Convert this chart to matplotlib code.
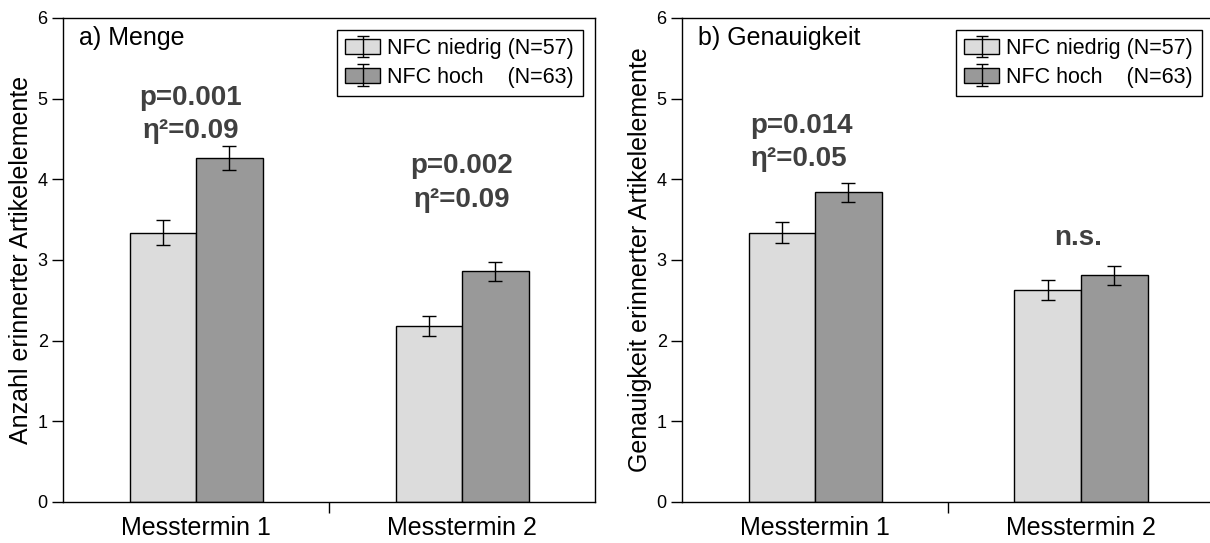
import matplotlib
matplotlib.use("Agg")
import matplotlib.pyplot as plt
from matplotlib.patches import Patch
from matplotlib.legend_handler import HandlerTuple
import numpy as np

plt.rcParams['font.family'] = ['Liberation Sans', 'DejaVu Sans']

categories = ["Messtermin 1", "Messtermin 2"]
series_labels = ["NFC niedrig (N=57)", "NFC hoch    (N=63)"]

# Panel a) Menge
menge_low = [3.34, 2.18]
menge_low_err = [0.16, 0.12]
menge_high = [4.26, 2.86]
menge_high_err = [0.15, 0.12]

# Panel b) Genauigkeit
gen_low = [3.34, 2.63]
gen_low_err = [0.13, 0.12]
gen_high = [3.84, 2.81]
gen_high_err = [0.12, 0.115]

panel_titles = ["a) Menge", "b) Genauigkeit"]
ylabels = ["Anzahl erinnerter Artikelelemente", "Genauigkeit erinnerter Artikelelemente"]

# annotations: (category index, x offset, y, text)
annot_a = [(0, -0.02, 5.01, "p=0.001"), (0, -0.02, 4.60, "η²=0.09"),
           (1, 0.0, 4.16, "p=0.002"), (1, 0.0, 3.75, "η²=0.09")]
annot_b = [(0, -0.05, 4.66, "p=0.014"), (0, -0.06, 4.25, "η²=0.05"),
           (1, -0.01, 3.27, "n.s.")]

col_low = "#dcdcdc"
col_high = "#999999"

fig = plt.figure(figsize=(12.1, 5.43), dpi=100)
ax1 = fig.add_axes([63/1210, 41/543, 532/1210, 484/543])
ax2 = fig.add_axes([682/1210, 41/543, 532/1210, 484/543])

def draw(ax, low, low_err, high, high_err, title, ylabel, annots):
    x = np.arange(len(categories))
    w = 0.25
    ekw = dict(ecolor="black", elinewidth=1.0, capsize=5, capthick=1.0)
    ax.bar(x - w/2, low, w, yerr=low_err, color=col_low, edgecolor="black",
           linewidth=1.0, error_kw=ekw, zorder=2)
    ax.bar(x + w/2, high, w, yerr=high_err, color=col_high, edgecolor="black",
           linewidth=1.0, error_kw=ekw, zorder=2)
    ax.set_xlim(-0.5, 1.5)
    ax.set_ylim(0, 6)
    ax.set_yticks(range(0, 7))
    ax.tick_params(axis='y', direction='out', length=8, width=1, labelsize=13, pad=3)
    ax.set_xticks(x)
    ax.set_xticklabels(categories, fontsize=18)
    ax.tick_params(axis='x', which='major', length=0, pad=10)
    ax.set_xticks([0.5], minor=True)
    ax.tick_params(axis='x', which='minor', direction='out', length=8, width=1)
    for s in ax.spines.values():
        s.set_linewidth(1.0)
    ax.set_ylabel(ylabel, fontsize=18, labelpad=3)
    ax.text(-0.44, 5.75, title, fontsize=18, va='center', ha='left')
    for ci, dx, y, t in annots:
        ax.text(x[ci] + dx, y, t, fontsize=20, fontweight='bold', color="#404040",
                ha='center', va='center')
    h1 = (Patch(facecolor=col_low, edgecolor='black', linewidth=1.0),
          ax.errorbar([np.nan], [np.nan], yerr=[1], fmt='none', ecolor='black', capsize=4, elinewidth=1))
    h2 = (Patch(facecolor=col_high, edgecolor='black', linewidth=1.0),
          ax.errorbar([np.nan], [np.nan], yerr=[1], fmt='none', ecolor='black', capsize=4, elinewidth=1))
    leg = ax.legend([h1, h2], series_labels, handler_map={tuple: HandlerTuple(ndivide=1)},
                    loc='upper right', bbox_to_anchor=(0.985, 0.985), fontsize=15.5,
                    frameon=True, fancybox=False, edgecolor='black', framealpha=1,
                    handlelength=1.6, handletextpad=0.35, borderpad=0.4, labelspacing=0.35,
                    borderaxespad=0.2)
    leg.get_frame().set_linewidth(1.0)

draw(ax1, menge_low, menge_low_err, menge_high, menge_high_err,
     panel_titles[0], ylabels[0], annot_a)
draw(ax2, gen_low, gen_low_err, gen_high, gen_high_err,
     panel_titles[1], ylabels[1], annot_b)

fig.savefig("out.png", dpi=100)
